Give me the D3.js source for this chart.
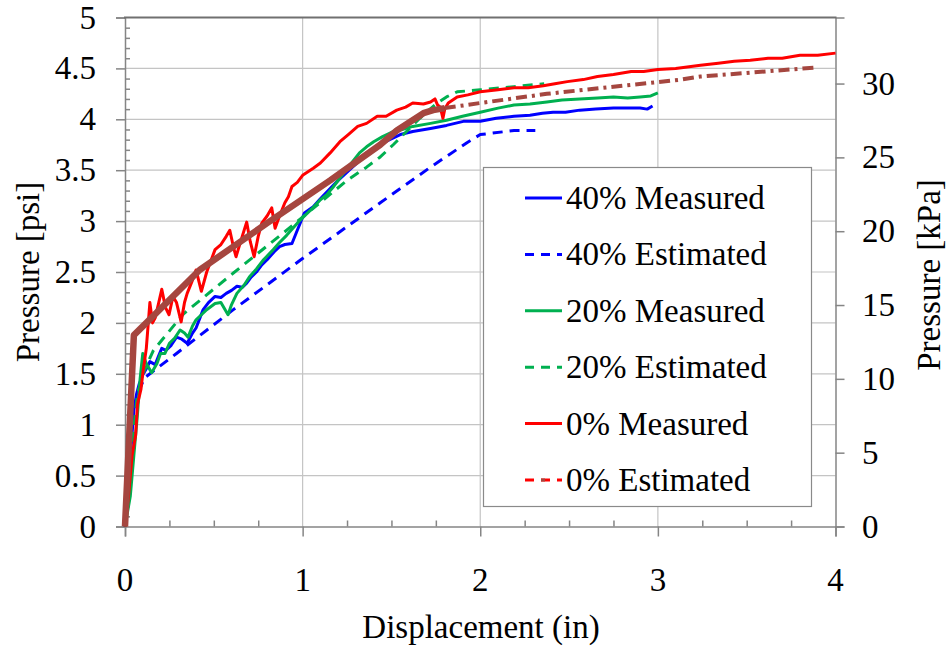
<!DOCTYPE html>
<html>
<head>
<meta charset="utf-8">
<script src="https://cdn.jsdelivr.net/npm/d3@7"></script>
<style>
  html, body { margin: 0; padding: 0; background: #fff; }
  svg { display: block; }
  text { font-family: "Liberation Serif", "Times New Roman", serif; fill: #000; }
</style>
</head>
<body>
<svg id="chart" width="948" height="648"></svg>
<script>
// Pressure vs. displacement, [displacement (in), pressure (psi)]
const measured40 = [[0,0],[0.02,0.4],[0.035,0.8],[0.05,1.15],[0.065,1.3],[0.08,1.4],[0.1,1.49],[0.12,1.55],[0.14,1.62],[0.17,1.59],[0.19,1.68],[0.207,1.75],[0.23,1.73],[0.26,1.78],[0.29,1.86],[0.32,1.84],[0.35,1.8],[0.38,1.9],[0.40,1.95],[0.44,2.13],[0.47,2.2],[0.507,2.26],[0.54,2.25],[0.57,2.29],[0.6,2.32],[0.63,2.36],[0.66,2.35],[0.685,2.39],[0.71,2.45],[0.74,2.5],[0.77,2.57],[0.8,2.62],[0.84,2.7],[0.87,2.75],[0.9,2.77],[0.94,2.78],[0.97,2.91],[1.01,3.08],[1.06,3.14],[1.1,3.22],[1.155,3.32],[1.2,3.4],[1.25,3.48],[1.305,3.57],[1.36,3.67],[1.42,3.74],[1.49,3.8],[1.55,3.85],[1.62,3.88],[1.72,3.91],[1.81,3.94],[1.905,3.98],[2.0,3.98],[2.09,4.01],[2.19,4.03],[2.28,4.04],[2.35,4.06],[2.41,4.07],[2.48,4.07],[2.56,4.09],[2.65,4.1],[2.75,4.11],[2.83,4.11],[2.9,4.11],[2.94,4.1],[2.97,4.13]];
const estimated40 = [[0,0],[0.04,0.9],[0.07,1.3],[0.11,1.46],[0.29,1.70],[0.61,2.13],[0.99,2.62],[1.437,3.18],[1.55,3.32],[1.72,3.53],[1.925,3.77],[2.0,3.85],[2.19,3.89],[2.31,3.89]];
const measured20 = [[0,0],[0.03,0.3],[0.05,0.7],[0.07,1.1],[0.085,1.45],[0.1,1.7],[0.12,1.6],[0.15,1.51],[0.18,1.6],[0.2,1.7],[0.225,1.7],[0.25,1.8],[0.28,1.85],[0.31,1.93],[0.335,1.9],[0.355,1.86],[0.38,1.97],[0.40,2.03],[0.43,2.08],[0.46,2.13],[0.507,2.19],[0.54,2.2],[0.58,2.08],[0.6,2.18],[0.63,2.29],[0.67,2.37],[0.70,2.45],[0.74,2.53],[0.78,2.62],[0.835,2.72],[0.87,2.79],[0.91,2.86],[0.95,2.94],[0.986,3.01],[1.04,3.1],[1.1,3.21],[1.136,3.26],[1.17,3.33],[1.23,3.47],[1.28,3.58],[1.32,3.67],[1.36,3.73],[1.40,3.78],[1.45,3.83],[1.51,3.88],[1.56,3.9],[1.62,3.93],[1.72,3.96],[1.81,3.99],[1.9,4.03],[2.0,4.07],[2.1,4.11],[2.19,4.14],[2.28,4.15],[2.375,4.17],[2.46,4.19],[2.56,4.2],[2.66,4.21],[2.75,4.22],[2.83,4.21],[2.9,4.22],[2.96,4.23],[3.0,4.26]];
const estimated20 = [[0,0],[0.04,0.8],[0.07,1.3],[0.1,1.5],[0.16,1.73],[0.33,2.09],[0.61,2.49],[0.91,2.91],[1.25,3.40],[1.36,3.53],[1.437,3.63],[1.51,3.75],[1.55,3.82],[1.66,4.01],[1.75,4.15],[1.81,4.22],[1.87,4.27],[2.0,4.29],[2.19,4.32],[2.36,4.35]];
const measured0 = [[0,0],[0.02,0.3],[0.04,0.7],[0.06,0.9],[0.07,1.2],[0.09,1.35],[0.1,1.5],[0.12,1.75],[0.14,2.2],[0.155,2.0],[0.17,2.05],[0.19,2.2],[0.207,2.33],[0.228,2.15],[0.248,2.08],[0.27,2.26],[0.29,2.2],[0.316,2.01],[0.335,2.2],[0.35,2.29],[0.38,2.42],[0.40,2.52],[0.43,2.31],[0.46,2.5],[0.507,2.72],[0.54,2.77],[0.57,2.85],[0.59,2.91],[0.61,2.75],[0.625,2.65],[0.66,2.85],[0.685,2.99],[0.705,2.8],[0.727,2.65],[0.75,2.85],[0.77,2.98],[0.8,3.05],[0.826,3.13],[0.845,2.93],[0.87,3.05],[0.9,3.18],[0.92,3.24],[0.94,3.34],[0.97,3.38],[1.0,3.45],[1.06,3.52],[1.1,3.57],[1.155,3.67],[1.21,3.78],[1.257,3.85],[1.31,3.93],[1.36,3.96],[1.42,4.03],[1.47,4.03],[1.53,4.09],[1.58,4.12],[1.62,4.16],[1.68,4.15],[1.72,4.17],[1.745,4.2],[1.76,4.14],[1.775,4.12],[1.79,4.01],[1.8,4.1],[1.82,4.16],[1.87,4.22],[1.93,4.24],[2.0,4.27],[2.1,4.29],[2.19,4.31],[2.27,4.31],[2.355,4.33],[2.42,4.35],[2.49,4.37],[2.58,4.39],[2.66,4.42],[2.75,4.44],[2.85,4.47],[2.92,4.47],[3.0,4.49],[3.1,4.5],[3.24,4.53],[3.34,4.55],[3.43,4.57],[3.52,4.58],[3.62,4.6],[3.7,4.6],[3.8,4.63],[3.9,4.63],[4.0,4.65]];
const estimated0Solid = [[0,0],[0.05,1.88],[0.12,2.0],[0.42,2.52],[0.80,2.98],[1.155,3.40],[1.437,3.75],[1.53,3.89],[1.68,4.06],[1.735,4.09],[1.8,4.11]];
const estimated0Dash = [[1.8,4.11],[2.0,4.16],[2.375,4.25],[2.75,4.32],[3.13,4.39],[3.24,4.42],[3.9,4.51]];

const xTicks = [0, 1, 2, 3, 4];
const yTicks = [0, 0.5, 1, 1.5, 2, 2.5, 3, 3.5, 4, 4.5, 5];
const kpaTicks = [0, 5, 10, 15, 20, 25, 30];
const legendLabels = ["40% Measured", "40% Estimated", "20% Measured", "20% Estimated", "0% Measured", "0% Estimated"];
const PSI_TO_KPA = 6.894757;

const svg = d3.select("#chart");
const L = 125, R = 835.5, T = 17.5, B = 526.5;
const x = d3.scaleLinear().domain([0, 4]).range([L, R]);
const y = d3.scaleLinear().domain([0, 5]).range([B, T]);
const yk = d3.scaleLinear().domain([0, 5 * PSI_TO_KPA]).range([B, T]);

function label(g, str, px, py, size, anchor, rot) {
  return g.append("text")
    .attr("transform", `translate(${px},${py})` + (rot ? ` rotate(${rot})` : ""))
    .attr("text-anchor", anchor)
    .attr("dominant-baseline", "central")
    .style("font-size", size + "px")
    .text(str);
}

// grid
const grid = svg.append("g").attr("stroke", "#c4c4c4").attr("stroke-width", 1.2);
grid.selectAll("line.h").data(yTicks.filter(v => v > 0 && v < 5)).join("line")
  .attr("x1", L).attr("x2", R).attr("y1", d => y(d)).attr("y2", d => y(d));
grid.selectAll("line.v").data(xTicks.filter(v => v > 0 && v < 4)).join("line")
  .attr("x1", d => x(d)).attr("x2", d => x(d)).attr("y1", T).attr("y2", B);

// axes
const axisColor = "#858585";
const gl = svg.append("g").attr("transform", `translate(${L},0)`)
  .call(d3.axisLeft(y).tickValues(yTicks).tickSize(9).tickFormat(""));
const glm = svg.append("g").attr("transform", `translate(${L},0)`)
  .call(d3.axisRight(y).tickValues(d3.range(0, 50).map(i => i / 10).filter(v => Math.round(v * 10) % 5 !== 0)).tickSize(5).tickFormat(""));
const gb = svg.append("g").attr("transform", `translate(0,${B})`)
  .call(d3.axisBottom(x).tickValues(xTicks).tickSize(10).tickFormat(""));
const gbm = svg.append("g").attr("transform", `translate(0,${B})`)
  .call(d3.axisTop(x).tickValues(d3.range(1, 16).map(i => i / 4).filter(v => v % 1 !== 0)).tickSize(6).tickFormat(""));
const gr = svg.append("g").attr("transform", `translate(${R},0)`)
  .call(d3.axisRight(yk).tickValues(kpaTicks).tickSize(9).tickFormat(""));
[gl, glm, gb, gbm, gr].forEach(g => {
  g.selectAll("path").attr("stroke", axisColor).attr("stroke-width", 1.5);
  g.selectAll("line").attr("stroke", axisColor).attr("stroke-width", 1.5);
});
glm.select("path").remove();
gbm.select("path").remove();
svg.append("line").attr("x1", L - 1).attr("x2", R + 1).attr("y1", T).attr("y2", T)
  .attr("stroke", "#707070").attr("stroke-width", 2);

// tick labels and titles
const FS = 33;
const lab = svg.append("g");
yTicks.forEach(v => label(lab, String(v), 96, y(v), FS, "end"));
xTicks.forEach(v => label(lab, String(v), x(v), 580, FS, "middle"));
kpaTicks.forEach(v => label(lab, String(v), 862, yk(v), FS, "start"));
label(lab, "Displacement  (in)", 481, 627, FS, "middle");
label(lab, "Pressure [psi]", 28, 272, FS, "middle", -90);
label(lab, "Pressure [kPa]", 929, 275, FS, "middle", -90);

// series
const line = d3.line().x(d => x(d[0])).y(d => y(d[1]));
const plot = svg.append("g").attr("fill", "none").attr("stroke-linejoin", "round");
const BLUE = "#0000ff", GREEN = "#00b050", RED = "#ff0000", BROWN = "#a5463f";
plot.append("path").datum(estimated40).attr("d", line).attr("stroke", BLUE).attr("stroke-width", 3).attr("stroke-dasharray", "10,7");
plot.append("path").datum(measured40).attr("d", line).attr("stroke", BLUE).attr("stroke-width", 3);
plot.append("path").datum(estimated20).attr("d", line).attr("stroke", GREEN).attr("stroke-width", 3).attr("stroke-dasharray", "10,7");
plot.append("path").datum(measured20).attr("d", line).attr("stroke", GREEN).attr("stroke-width", 3);
plot.append("path").datum(measured0).attr("d", line).attr("stroke", RED).attr("stroke-width", 3);
plot.append("path").datum(estimated0Dash).attr("d", line).attr("stroke", BROWN).attr("stroke-width", 4).attr("stroke-dasharray", "11,5,3,5");
plot.append("path").datum(estimated0Solid).attr("d", line).attr("stroke", BROWN).attr("stroke-width", 6.5);

// legend
const lg = svg.append("g");
lg.append("rect").attr("x", 483.5).attr("y", 167.5).attr("width", 328).attr("height", 339)
  .attr("fill", "#fff").attr("stroke", "#8a8a8a").attr("stroke-width", 1.2);
const styles = [
  { c: BLUE, dash: null }, { c: BLUE, dash: "9,7" },
  { c: GREEN, dash: null }, { c: GREEN, dash: "9,7" },
  { c: RED, dash: null }, { c: RED, dash: "9,7" }
];
legendLabels.forEach((t, i) => {
  const cy = 198 + i * 56.4;
  lg.append("line").attr("x1", 525).attr("x2", 562).attr("y1", cy).attr("y2", cy)
    .attr("stroke", styles[i].c).attr("stroke-width", 3)
    .attr("stroke-dasharray", styles[i].dash);
  if (i === 5) {
    lg.append("line").attr("x1", 541).attr("x2", 545).attr("y1", cy).attr("y2", cy)
      .attr("stroke", BROWN).attr("stroke-width", 3);
  }
  label(lg, t, 566, cy, FS, "start");
});
</script>
</body>
</html>
